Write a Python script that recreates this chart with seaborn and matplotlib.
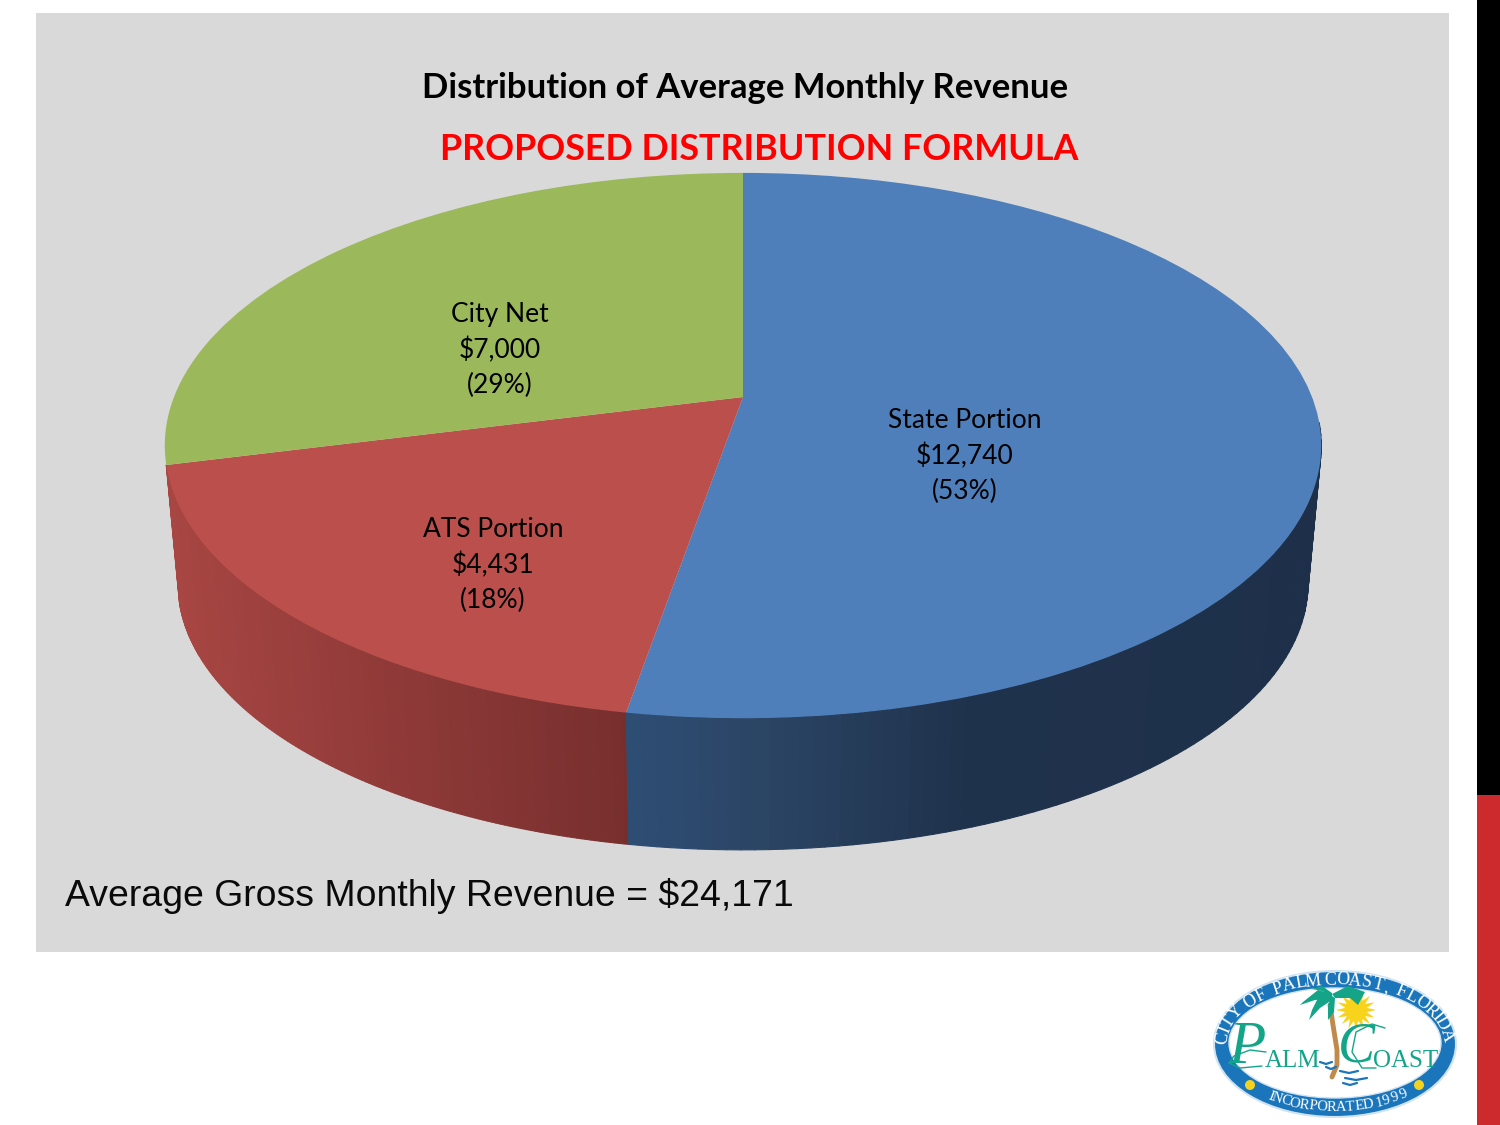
import numpy as np
import seaborn as sns
import matplotlib
matplotlib.use('Agg')
import matplotlib.pyplot as plt
from matplotlib.collections import PolyCollection
from matplotlib.patches import Ellipse, Polygon, Rectangle
from matplotlib.transforms import Transform

sns.set_theme(style='white')
plt.rcParams['font.family'] = ['Lato', 'DejaVu Sans']

# Chart data
slice_names = ['State Portion', 'ATS Portion', 'City Net']
slice_values = [12740, 4431, 7000]
slice_percents = [53, 18, 29]
title_text = 'Distribution of Average Monthly Revenue'
subtitle_text = 'PROPOSED DISTRIBUTION FORMULA'
footer_text = 'Average Gross Monthly Revenue = $24,171'

top_colors = sns.color_palette(['#4e7fbb', '#bb4f4c', '#9bb95a'])
# the green slice shows no side wall
wall_stops = [
    ([630, 770, 960, 1320], ['#2e4d74', '#2b4464', '#1f324c', '#1e3049']),
    ([178, 400, 630], ['#a84643', '#8f3a38', '#772f2e']),
    None,
]
label_spots = [(965, 456), (493, 565), (500, 350)]


class TiltedDisc(Transform):
    # unit circle -> picture pixels, with a bit of perspective
    input_dims = 2
    output_dims = 2
    is_separable = False

    def __init__(self, cx, cy, a, b, k):
        super().__init__()
        self.cx, self.cy, self.a, self.b, self.k = cx, cy, a, b, k

    def transform_non_affine(self, values):
        values = np.asarray(values, dtype=float)
        w = 1 + self.k * values[:, 1]
        return np.column_stack([self.cx + self.a * values[:, 0] / w,
                                self.cy - self.b * values[:, 1] / w])


top_disc = TiltedDisc(743, 397, 569, 264, 0.178)
low_disc = TiltedDisc(743, 536, 556, 258, 0.178)

fig = plt.figure(figsize=(15, 11.25), dpi=100, facecolor='white')
ax = fig.add_axes([0, 0, 1, 1])

# top face
wedges, _ = ax.pie(slice_values, colors=top_colors, startangle=90, counterclock=False,
                   wedgeprops={'linewidth': 0, 'zorder': 4})
for w in wedges:
    w.set_transform(top_disc + ax.transData)

ax.set_aspect('auto')
ax.set_xlim(0, 1500)
ax.set_ylim(1125, 0)
ax.axis('off')

# panel and side bar
ax.add_patch(Rectangle((36, 13), 1413, 939, facecolor='#d9d9d9', edgecolor='none', zorder=0))
ax.add_patch(Rectangle((1477, 0), 23, 795, facecolor='black', edgecolor='none', zorder=0))
ax.add_patch(Rectangle((1477, 795), 23, 330, facecolor='#cd2a2e', edgecolor='none', zorder=0))

# side wall, shaded slice by slice
shares = np.cumsum([0] + slice_values) / sum(slice_values)
for i in range(len(slice_values)):
    if wall_stops[i] is None:
        continue
    ang = np.pi / 2 - 2 * np.pi * np.linspace(shares[i], shares[i + 1], 160)
    ring = np.column_stack([np.cos(ang), np.sin(ang)])
    up = top_disc.transform_non_affine(ring)
    low = low_disc.transform_non_affine(ring)
    polys, cols = [], []
    xs, stops = wall_stops[i]
    rgb = np.array([matplotlib.colors.to_rgb(c) for c in stops])
    for j in range(len(ang) - 1):
        if ring[j, 1] > -0.1 and ring[j + 1, 1] > -0.1:
            continue
        polys.append([up[j], up[j + 1], low[j + 1], low[j]])
        mx = low[j:j + 2, 0].mean()
        cols.append([np.interp(mx, xs, rgb[:, c]) for c in range(3)])
    ax.add_collection(PolyCollection(polys, facecolors=cols, edgecolors=cols,
                                     linewidths=0.8, zorder=3 if i != 0 else 3.1))

# labels
for name, val, pct, (lx, ly) in zip(slice_names, slice_values, slice_percents, label_spots):
    ax.text(lx, ly, f'{name}\n${val:,}\n({pct}%)', ha='center', va='center', fontsize=19,
            color='black', linespacing=1.5, zorder=6)

ax.text(745, 88, title_text, ha='center', va='center', fontsize=24.9, fontweight='bold',
        color='black', zorder=6)
ax.text(759, 149, subtitle_text, ha='center', va='center', fontsize=25.8, fontweight='bold',
        color='#fe0000', zorder=6)
ax.text(65, 896, footer_text, ha='left', va='center', fontsize=26.95, family='Liberation Sans',
        color='#0a0a0a', zorder=6)

# Palm Coast seal
LOGO_BLUE = '#1b75bb'
LOGO_GREEN = '#14a589'
ax.add_patch(Ellipse((1335, 1044), 242, 146, facecolor=LOGO_BLUE, edgecolor='#cfe3f2', lw=1.5, zorder=5))
ax.add_patch(Ellipse((1335, 1043), 212, 110, facecolor='white', edgecolor='#cfe3f2', lw=1, zorder=5))


def arc_text(text, t0, t1, a, b, size):
    # one character at a time round the ring, spaced by rough glyph width
    t_fine = np.radians(np.linspace(t0, t1, 800))
    dist = np.r_[0, np.cumsum(np.hypot(np.diff(a * np.cos(t_fine)), np.diff(b * np.sin(t_fine))))]
    weights = np.array([0.5 if ch == ' ' else 0.45 if ch in 'I,1' else 1.0 for ch in text])
    mids = np.cumsum(weights) - weights / 2
    ts = np.interp(mids / weights.sum() * dist[-1], dist, t_fine)
    for ch, t in zip(text, ts):
        x = 1335 + a * np.cos(t)
        y = 1044 - b * np.sin(t)
        rot = np.degrees(np.arctan2(-b * np.cos(t), a * np.sin(t)))
        if np.sin(t) < -0.2:
            rot += 180
        ax.text(x, y, ch, ha='center', va='center', rotation=rot, rotation_mode='anchor',
                fontsize=size, family='Liberation Serif', color='white', zorder=7)


arc_text('CITY OF PALM COAST, FLORIDA', 180, 3, 113, 64, 13)
arc_text('INCORPORATED 1999', 234, 310, 113, 63.5, 10.5)
for dot_x in (1250, 1419):
    ax.add_patch(Ellipse((dot_x, 1085), 10, 10, facecolor='#f4d21f', edgecolor='none', zorder=7))

# sun
sun_ang = np.linspace(0, 2 * np.pi, 33)[:-1]
sun_r = np.where(np.arange(32) % 2 == 0, 20, 11)
ax.add_patch(Polygon(np.column_stack([1356 + sun_r * np.cos(sun_ang), 1010 + sun_r * np.sin(sun_ang)]),
                     facecolor='#f7d31c', edgecolor='none', zorder=6))

# palm
ax.plot([1330, 1333, 1337, 1337, 1332], [1005, 1025, 1050, 1065, 1077], color='#c08a4a', lw=3.5,
        solid_capstyle='round', zorder=7)
fronds = [
    [(1332, 994), (1318, 990), (1303, 1002), (1300, 1005), (1315, 1000), (1330, 999)],
    [(1332, 995), (1318, 998), (1312, 1010), (1309, 1020), (1320, 1008), (1332, 1000)],
    [(1332, 996), (1328, 1005), (1328, 1020), (1325, 1024), (1334, 1012), (1335, 998)],
    [(1332, 994), (1348, 986), (1365, 992), (1358, 1005), (1350, 998), (1335, 998)],
    [(1332, 993), (1322, 986), (1312, 989), (1322, 991), (1332, 996)],
]
for fr in fronds:
    ax.add_patch(Polygon(fr, facecolor=LOGO_GREEN, edgecolor='none', zorder=7))

# script name
for txt, x, y, size, style in [('P', 1247, 1048, 44, 'italic'), ('ALM', 1293, 1061, 18, 'normal'),
                               ('C', 1356, 1048, 40, 'italic'), ('OAST', 1406, 1061, 18, 'normal')]:
    ax.text(x, y, txt, ha='center', va='center', fontsize=size, style=style,
            family='Liberation Serif', color=LOGO_GREEN, zorder=7)
# flourishes under the capitals
ax.plot([1266, 1250, 1234, 1229, 1240, 1262], [1052, 1050, 1056, 1063, 1068, 1066], color=LOGO_GREEN, lw=1, zorder=7)
ax.plot([1385, 1372, 1356, 1352, 1362, 1376], [1028, 1024, 1032, 1052, 1068, 1068], color=LOGO_GREEN, lw=1, zorder=7)

# water
for wx, wy, wl in [(1320, 1062, 12), (1326, 1067, 10), (1340, 1071, 18), (1345, 1078, 22), (1343, 1083, 14)]:
    ax.plot([wx, wx + wl / 2, wx + wl], [wy, wy + 2, wy], color=LOGO_BLUE, lw=1.6, zorder=7)

fig.savefig('out.png', dpi=100, facecolor='white')
plt.close(fig)
